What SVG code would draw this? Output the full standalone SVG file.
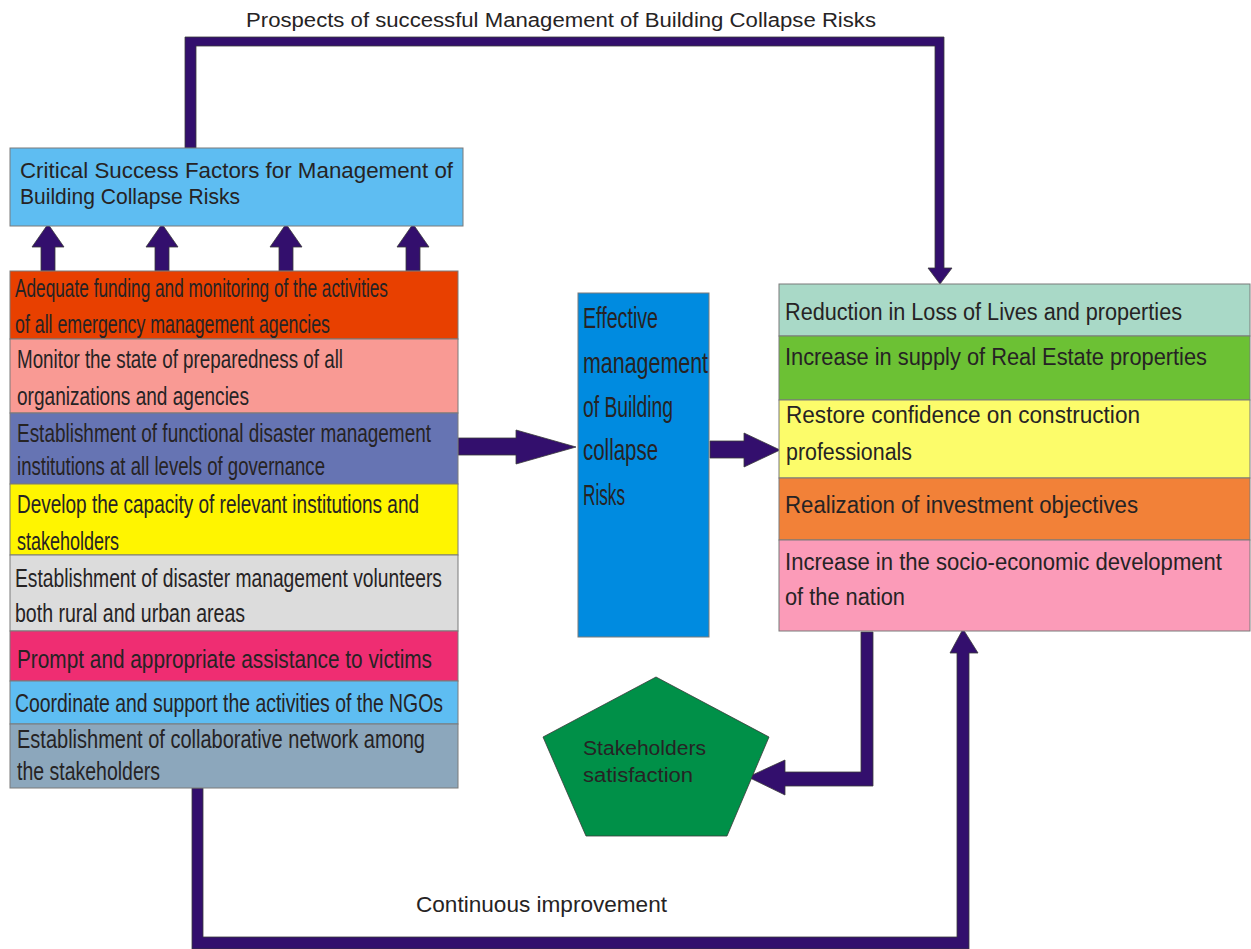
<svg xmlns="http://www.w3.org/2000/svg" width="1251" height="949" viewBox="0 0 1251 949">
<style>
  text { font-family: "Liberation Sans", Arial, sans-serif; fill: #262324; }
  .box { stroke: #7a7a7a; stroke-width: 1; }
  .t26 { font-size: 26px; }
  .t23 { font-size: 23px; }
  .t22 { font-size: 22px; }
  .t20 { font-size: 20px; }
  .mid { font-size: 30px; }
  .conn { fill: #330f6d; stroke: #3a3a3a; stroke-width: 0.8; }
</style>
<rect width="1251" height="949" fill="#ffffff"/>

<g id="labels">
  <text class="t20" x="246" y="27" textLength="630" lengthAdjust="spacingAndGlyphs">Prospects  of successful Management of Building Collapse Risks</text>
  <text class="t22" x="416" y="912" textLength="251" lengthAdjust="spacingAndGlyphs">Continuous improvement</text>
</g>

<g id="connectors">
  <path class="conn" d="M185,148 L185,37 L944,37 L944,268 L952,268 L940,284 L928,268 L935,268 L935,46 L196,46 L196,148 Z"/>
  <path class="conn" d="M192,788 L192,949 L969,949 L969,653 L978,653 L963,629 L950,653 L957,653 L957,937 L203,937 L203,788 Z"/>
  <path class="conn" d="M861,632 L873,632 L873,786 L785,786 L785,795 L748,777 L785,760 L785,772 L861,772 Z"/>
  <path class="conn" d="M458,438 L516,438 L516,430 L576,447 L516,464 L516,455 L458,455 Z"/>
  <path class="conn" d="M710,441 L744,441 L744,433 L780,450 L744,467 L744,458 L710,458 Z"/>
  <path class="conn" d="M48,224 L64,247 L55,247 L55,271 L41,271 L41,247 L32,247 Z"/>
  <path class="conn" d="M162,224 L178,247 L169,247 L169,271 L155,271 L155,247 L146,247 Z"/>
  <path class="conn" d="M286,224 L302,247 L293,247 L293,271 L279,271 L279,247 L270,247 Z"/>
  <path class="conn" d="M413,224 L429,247 L420,247 L420,271 L406,271 L406,247 L397,247 Z"/>
</g>

<g id="csf">
  <rect class="box" x="10" y="148" width="453" height="78" fill="#5ebdf2"/>
  <text class="t22" x="20" y="178" textLength="433" lengthAdjust="spacingAndGlyphs">Critical Success Factors for Management of</text>
  <text class="t22" x="20" y="204" textLength="220" lengthAdjust="spacingAndGlyphs">Building Collapse Risks</text>
</g>

<g id="factor1">
  <rect class="box" x="10" y="271" width="448" height="68" fill="#e84000"/>
  <text class="t26" x="15" y="297" textLength="373" lengthAdjust="spacingAndGlyphs">Adequate funding and monitoring of the activities</text>
  <text class="t26" x="15" y="333" textLength="315" lengthAdjust="spacingAndGlyphs">of all emergency management agencies</text>
</g>
<g id="factor2">
  <rect class="box" x="10" y="339" width="448" height="74" fill="#f99a94"/>
  <text class="t26" x="17" y="368" textLength="326" lengthAdjust="spacingAndGlyphs">Monitor the state of preparedness of all</text>
  <text class="t26" x="17" y="405" textLength="232" lengthAdjust="spacingAndGlyphs">organizations and agencies</text>
</g>
<g id="factor3">
  <rect class="box" x="10" y="413" width="448" height="71" fill="#6674b3"/>
  <text class="t26" x="17" y="442" textLength="414" lengthAdjust="spacingAndGlyphs">Establishment of functional disaster management</text>
  <text class="t26" x="17" y="475" textLength="308" lengthAdjust="spacingAndGlyphs">institutions at all levels of governance</text>
</g>
<g id="factor4">
  <rect class="box" x="10" y="484" width="448" height="71" fill="#fff500"/>
  <text class="t26" x="17" y="513" textLength="402" lengthAdjust="spacingAndGlyphs">Develop the capacity of relevant institutions and</text>
  <text class="t26" x="17" y="550" textLength="102" lengthAdjust="spacingAndGlyphs">stakeholders</text>
</g>
<g id="factor5">
  <rect class="box" x="10" y="555" width="448" height="76" fill="#dcdcdc"/>
  <text class="t26" x="15" y="587" textLength="427" lengthAdjust="spacingAndGlyphs">Establishment of disaster management volunteers</text>
  <text class="t26" x="15" y="622" textLength="230" lengthAdjust="spacingAndGlyphs">both rural and urban areas</text>
</g>
<g id="factor6">
  <rect class="box" x="10" y="631" width="448" height="50" fill="#ef2d72"/>
  <text class="t26" x="17" y="668" textLength="415" lengthAdjust="spacingAndGlyphs">Prompt and appropriate assistance to victims</text>
</g>
<g id="factor7">
  <rect class="box" x="10" y="681" width="448" height="43" fill="#5ebdf2"/>
  <text class="t26" x="15" y="712" textLength="428" lengthAdjust="spacingAndGlyphs">Coordinate and support the activities of the NGOs</text>
</g>
<g id="factor8">
  <rect class="box" x="10" y="724" width="448" height="64" fill="#8ca7bc"/>
  <text class="t26" x="17" y="748" textLength="408" lengthAdjust="spacingAndGlyphs">Establishment of collaborative network among</text>
  <text class="t26" x="17" y="780" textLength="143" lengthAdjust="spacingAndGlyphs">the stakeholders</text>
</g>

<g id="effective">
  <rect class="box" x="578" y="293" width="131" height="344" fill="#008be0"/>
  <text class="mid" x="583" y="328" textLength="75" lengthAdjust="spacingAndGlyphs">Effective</text>
  <text class="mid" x="583" y="373" textLength="125" lengthAdjust="spacingAndGlyphs">management</text>
  <text class="mid" x="583" y="417" textLength="90" lengthAdjust="spacingAndGlyphs">of Building</text>
  <text class="mid" x="583" y="460" textLength="75" lengthAdjust="spacingAndGlyphs">collapse</text>
  <text class="mid" x="583" y="505" textLength="42" lengthAdjust="spacingAndGlyphs">Risks</text>
</g>

<g id="outcome1">
  <rect class="box" x="779" y="284" width="471" height="52" fill="#a9d9c7"/>
  <text class="t23" x="785" y="320" textLength="397" lengthAdjust="spacingAndGlyphs">Reduction in Loss of Lives and properties</text>
</g>
<g id="outcome2">
  <rect class="box" x="779" y="336" width="471" height="64" fill="#6cc134"/>
  <text class="t23" x="785" y="365" textLength="422" lengthAdjust="spacingAndGlyphs">Increase in supply of Real Estate properties</text>
</g>
<g id="outcome3">
  <rect class="box" x="779" y="400" width="471" height="78" fill="#fcfc6a"/>
  <text class="t23" x="786" y="423" textLength="354" lengthAdjust="spacingAndGlyphs">Restore confidence on construction</text>
  <text class="t23" x="786" y="460" textLength="126" lengthAdjust="spacingAndGlyphs">professionals</text>
</g>
<g id="outcome4">
  <rect class="box" x="779" y="478" width="471" height="62" fill="#f28138"/>
  <text class="t23" x="785" y="513" textLength="353" lengthAdjust="spacingAndGlyphs">Realization of investment objectives</text>
</g>
<g id="outcome5">
  <rect class="box" x="779" y="540" width="471" height="91" fill="#fb9bb8"/>
  <text class="t23" x="785" y="570" textLength="437" lengthAdjust="spacingAndGlyphs">Increase in the socio-economic development</text>
  <text class="t23" x="785" y="605" textLength="120" lengthAdjust="spacingAndGlyphs">of the nation</text>
</g>

<g id="stakeholders">
  <polygon points="656,677 769,737 727,836 586,836 543,737" fill="#009048" stroke="#3a3a3a" stroke-width="0.8"/>
  <text class="t20" x="583" y="755" textLength="123" lengthAdjust="spacingAndGlyphs">Stakeholders</text>
  <text class="t20" x="583" y="782" textLength="110" lengthAdjust="spacingAndGlyphs">satisfaction</text>
</g>
</svg>
